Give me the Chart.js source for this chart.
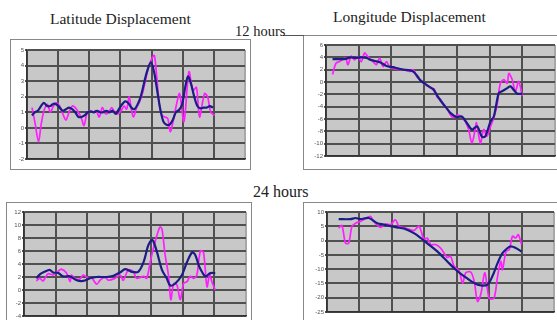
<!DOCTYPE html>
<html>
<head>
<meta charset="utf-8">
<script src="https://cdn.jsdelivr.net/npm/chart.js@4"></script>
<style>
  body { margin: 0; width: 557px; height: 320px; background: #fff; position: relative; overflow: hidden; }
  .ttl { position: absolute; font-family: "Liberation Serif", serif; color: #222; line-height: 1; white-space: nowrap; }
  .box { position: absolute; border: 1px solid #888; background: #fff; }
  .cv { position: absolute; }
  .rule { position: absolute; height: 1px; background: #555; }
</style>
</head>
<body>
<div class="box" style="left:10px; top:39px; width:239px; height:129px;"></div>
<div class="box" style="left:303px; top:35px; width:260px; height:133px;"></div>
<div class="rule" style="left:283px; top:35px; width:21px;"></div>
<div class="box" style="left:6px; top:202px; width:244px; height:130px;"></div>
<div class="box" style="left:303px; top:202px; width:260px; height:130px;"></div>

<div class="ttl" style="left:50px; top:11px; font-size:15.5px;">Latitude Displacement</div>
<div class="ttl" style="left:235px; top:24px; font-size:14.5px;">12 hours</div>
<div class="ttl" style="left:333px; top:9px; font-size:15.5px;">Longitude Displacement</div>
<div class="ttl" style="left:253px; top:184px; font-size:16px;">24 hours</div>

<div class="cv" style="left:5px; top:44px; width:242px; height:121px;"><canvas id="lat12"></canvas></div>
<div class="cv" style="left:304px; top:39px; width:253px; height:123px;"><canvas id="lon12"></canvas></div>
<div class="cv" style="left:2px; top:206px; width:246px; height:116px;"><canvas id="lat24"></canvas></div>
<div class="cv" style="left:305px; top:206px; width:251px; height:112px;"><canvas id="lon24"></canvas></div>

<script>
// 12 hours, latitude
const lat12NavyX = [1.6, 2.5, 3.5, 4.5, 5.4, 6.5, 7.5, 8.5, 9.5, 10.5, 11.5, 12.5, 13.5, 14.5, 15.5, 16.5, 17.5, 18.5, 19.5, 20.5, 21.5, 22.5, 23.5, 24.5, 25.5, 26.5, 27.5, 28.5, 29.5, 30.5, 31.5, 32.5, 33.5, 34.5, 35.5, 36.5, 37.5, 38.5, 39.8, 40.8, 41.8, 42.8, 43.8, 44.8, 45.8, 46.8, 47.8, 48.8, 49.8, 50.8, 51.7, 52.7, 53.7, 54.7, 55.7, 56.7, 57.7, 58.7, 59.7];
const lat12NavyY = [0.8, 1.0, 1.1, 1.4, 1.6, 1.4, 1.4, 1.55, 1.5, 1.3, 1.1, 1.2, 1.3, 1.2, 1.0, 0.7, 0.7, 0.8, 1.0, 1.05, 1.0, 1.1, 1.0, 1.0, 1.1, 1.0, 1.1, 0.9, 1.2, 1.5, 1.7, 1.6, 1.3, 1.2, 1.5, 2.0, 2.8, 3.6, 4.2, 3.6, 2.4, 1.2, 0.4, 0.2, 0.2, 0.5, 1.0, 1.15, 1.5, 2.6, 3.3, 2.8, 2.0, 1.4, 1.25, 1.3, 1.3, 1.4, 1.3];
const lat12PinkX = [1.6, 2.6, 3.7, 4.6, 5.6, 6.6, 7.5, 8.5, 9.5, 10.5, 11.5, 12.5, 13.5, 14.5, 15.5, 16.5, 17.5, 18.3, 19.2, 20.2, 21.2, 22.2, 23.2, 24.2, 25.2, 26.2, 27.2, 28.2, 29.2, 30.2, 31.2, 32, 32.8, 33.5, 34.2, 35.2, 36.2, 37.2, 38.2, 39.2, 40.2, 40.9, 41.7, 42.5, 43.3, 44.3, 45.2, 46, 47, 48, 49, 50.4, 52, 53.3, 54.4, 55.4, 57, 58, 59, 60.3];
const lat12PinkY = [1.3, 0.3, -0.9, 0.3, 1.2, 1.5, 1.0, 1.4, 1.6, 1.4, 0.9, 0.5, 1.0, 1.4, 1.3, 1.0, 0.6, 0.15, 0.9, 1.1, 1.0, 1.1, 0.7, 1.3, 0.9, 1.0, 1.3, 1.0, 0.9, 1.1, 1.4, 1.2, 2.0, 1.2, 0.7, 1.3, 1.7, 2.3, 3.2, 4.0, 4.5, 4.65, 3.2, 1.5, 0.8, 0.7, 0.6, -0.25, 0.5, 1.5, 2.2, 0.4, 3.6, 2.4, 2.6, 0.7, 2.2, 2.0, 1.0, 0.8];

// 12 hours, longitude
const lon12NavyX = [2, 4, 6, 7.5, 9, 11, 12.5, 13.5, 15, 16.5, 18.5, 20.5, 22, 23.6, 25.5, 26.7, 28, 28.7, 30.8, 32.8, 34, 35, 36.5, 38, 40, 41.5, 43, 44.6, 46.2, 47.7, 48.7, 50.3, 51.3, 52.8, 53.8, 55.4, 56.4, 57.4, 58.5, 60];
const lon12NavyY = [3.7, 3.7, 3.75, 4.0, 3.9, 4.0, 3.9, 3.6, 3.4, 3.2, 2.6, 2.4, 2.2, 2.0, 1.9, 1.7, 0.9, 0.35, -0.5, -1.2, -2.2, -3.0, -4.0, -5.0, -5.7, -5.6, -6.6, -7.7, -7.2, -8.9, -8.8, -6.4, -5.6, -1.8, -1.5, -1.0, -0.7, -1.3, -1.9, -1.9];
const lon12PinkX = [2, 3, 4, 5, 6, 6.7, 7.7, 8.7, 9.7, 10.8, 11.8, 12.8, 14.4, 15.4, 16.4, 17.4, 18.5, 19.5, 21.5, 23.6, 25.6, 26.7, 27.7, 28.7, 30, 31, 32, 33, 34, 35, 36, 37, 38, 39, 40, 41, 42.6, 43.6, 44.6, 45.6, 46, 47.2, 48.2, 49.2, 50.3, 51.3, 52.3, 53.3, 54.4, 55.4, 55.9, 56.9, 57.9, 58.9, 60];
const lon12PinkY = [1.2, 3.0, 3.3, 3.6, 3.9, 2.8, 4.2, 3.6, 4.1, 3.3, 4.7, 4.1, 3.3, 2.8, 3.9, 2.5, 3.3, 2.4, 2.1, 2.0, 1.7, 2.0, 0.9, 0.4, -0.3, -0.6, -1.0, -1.1, -2.5, -2.8, -3.8, -4.2, -5.3, -5.8, -5.4, -5.5, -6.4, -7.7, -9.9, -7.7, -6.6, -9.9, -7.7, -8.8, -7.2, -5.8, -3.7, -0.2, 0.4, -0.2, 1.4, 0.4, -1.5, 0.1, -2.3];

// 24 hours, latitude
const lat24NavyX = [3.9, 5, 6.5, 8.1, 9.2, 10.8, 12.3, 14.5, 16.6, 18.7, 20.8, 22.9, 26, 28.2, 30.3, 31.9, 34, 36, 37.7, 39.2, 40.3, 40.8, 41.9, 43.5, 45, 46.1, 47.7, 49.8, 51.4, 53, 54, 55.1, 56.1, 57.2, 58.8, 60.3];
const lat24NavyY = [1.8, 2.4, 2.8, 3.1, 2.7, 2.6, 2.1, 2.1, 1.5, 1.4, 1.8, 2.0, 2.0, 2.2, 2.7, 3.2, 2.8, 2.8, 4.3, 6.9, 7.7, 7.5, 5.9, 3.1, 1.8, 0.7, 1.0, 2.3, 4.3, 5.8, 5.4, 3.8, 2.8, 2.1, 2.6, 2.6];
const lat24PinkX = [3.9, 5, 6, 7.6, 9.2, 10.8, 11.8, 13.4, 14.5, 15, 16, 17.6, 18.7, 20.3, 21.3, 22.9, 24, 25.5, 26.6, 28.7, 30.3, 31.3, 32.9, 34.5, 35.5, 37.7, 38.7, 39.8, 40.8, 41.9, 42.9, 43.5, 44.5, 45.6, 46.3, 47.2, 48.2, 49.3, 50.3, 51.4, 52.4, 53.5, 54.5, 55.6, 56.6, 57.7, 58.5, 59.3, 60.3];
const lat24PinkY = [1.4, 1.8, 1.4, 2.5, 2.3, 2.9, 3.2, 2.6, 1.3, 2.3, 1.8, 1.7, 2.3, 1.8, 1.9, 0.9, 1.5, 2.0, 1.5, 1.8, 2.3, 1.5, 3.1, 2.8, 1.8, 2.1, 1.8, 4.3, 6.4, 8.4, 9.7, 9.4, 5.4, 2.1, -1.5, 1.0, 0.8, -1.5, 1.0, 1.3, 2.1, 1.8, 2.3, 6.0, 5.8, 0.5, 2.3, 1.2, 0.0];

// 24 hours, longitude
const lon24NavyX = [3.6, 7.2, 8.8, 10.3, 12.9, 15.5, 17.5, 19.6, 21.6, 23.7, 26.8, 28.9, 31.4, 34, 37.1, 39.7, 42.3, 45.4, 47.4, 49.5, 51, 52.6, 54.1, 55.7, 56.7, 58.2, 60];
const lon24NavyY = [7.5, 7.5, 7.9, 7.5, 7.9, 6.1, 5.6, 5.0, 4.6, 4.2, 2.6, 0.9, -1.4, -3.8, -7.3, -10.2, -12.5, -14.9, -15.7, -15.4, -12.5, -7.9, -4.4, -2.6, -2.0, -2.6, -3.8];
const lon24PinkX = [3.6, 4.6, 5.7, 6.7, 7.7, 8.8, 10.3, 11.9, 13.4, 14.4, 16.5, 18, 19.6, 21.1, 22.2, 24.2, 26.8, 28.4, 29.9, 30.9, 32, 33.5, 35, 36.1, 37.1, 38.1, 39.2, 40.7, 41.8, 42.8, 44.3, 45.4, 46.4, 47.4, 48.7, 50, 51.5, 52.6, 53.6, 54.1, 55.2, 56.2, 57.2, 58.2, 59, 60];
const lon24PinkY = [4.4, 5.3, -0.9, -0.9, 5.0, 6.1, 6.7, 7.7, 8.5, 6.7, 4.6, 5.8, 5.6, 7.3, 5.0, 4.4, 3.5, 5.0, 0.4, 0.9, -1.4, -1.4, -2.6, -4.4, -5.9, -5.5, -9.0, -10.5, -14.9, -11.3, -11.0, -14.3, -21.3, -18.9, -11.3, -20.2, -20.2, -12.5, -7.3, -10.2, -3.8, -3.2, 1.5, 0.9, 2.1, -1.4];

const NAVY = '#1c1c86';
const PINK = '#ff1eff';

const plotBg = {
  id: 'plotBg',
  beforeDraw(chart) {
    const a = chart.chartArea, c = chart.ctx;
    c.save();
    c.fillStyle = '#c8c8c8';
    c.fillRect(a.left, a.top, a.right - a.left, a.bottom - a.top);
    c.restore();
  }
};

function pts(xs, ys) {
  return xs.map((x, i) => ({ x: x, y: ys[i] }));
}

function makeChart(id, nx, ny, px, py, yMin, yMax, yStep) {
  new Chart(document.getElementById(id), {
    type: 'line',
    data: {
      datasets: [
        { data: pts(nx, ny), borderColor: NAVY, borderWidth: 2.2, pointRadius: 0, tension: 0.3 },
        { data: pts(px, py), borderColor: PINK, borderWidth: 1.7, pointRadius: 0, tension: 0.3 }
      ]
    },
    options: {
      responsive: true,
      maintainAspectRatio: false,
      animation: false,
      layout: { padding: { top: 6, bottom: 6, left: 0, right: 2 } },
      plugins: { legend: { display: false }, tooltip: { enabled: false } },
      scales: {
        x: {
          type: 'linear', min: 0, max: 70,
          ticks: { display: false, stepSize: 10 },
          grid: {
            drawTicks: false, lineWidth: 2,
            color: ctx => ctx.tick && ctx.tick.value === 70 ? '#a8a8a8' : '#505050'
          },
          border: { display: true, color: '#333', width: 1.5 },
          afterFit: s => { s.height = 0; }
        },
        y: {
          min: yMin, max: yMax,
          ticks: { stepSize: yStep, padding: 1, color: '#555', font: { family: 'Liberation Sans', size: 6 } },
          grid: { lineWidth: 2, color: '#505050', tickLength: 2, tickColor: '#555' },
          border: { display: true, color: '#333', width: 1.5 },
          afterFit: s => { s.width = 22; }
        }
      }
    },
    plugins: [plotBg]
  });
}

makeChart('lat12', lat12NavyX, lat12NavyY, lat12PinkX, lat12PinkY, -2, 5, 1);
makeChart('lon12', lon12NavyX, lon12NavyY, lon12PinkX, lon12PinkY, -12, 6, 2);
makeChart('lat24', lat24NavyX, lat24NavyY, lat24PinkX, lat24PinkY, -4, 12, 2);
makeChart('lon24', lon24NavyX, lon24NavyY, lon24PinkX, lon24PinkY, -25, 10, 5);
</script>
</body>
</html>
